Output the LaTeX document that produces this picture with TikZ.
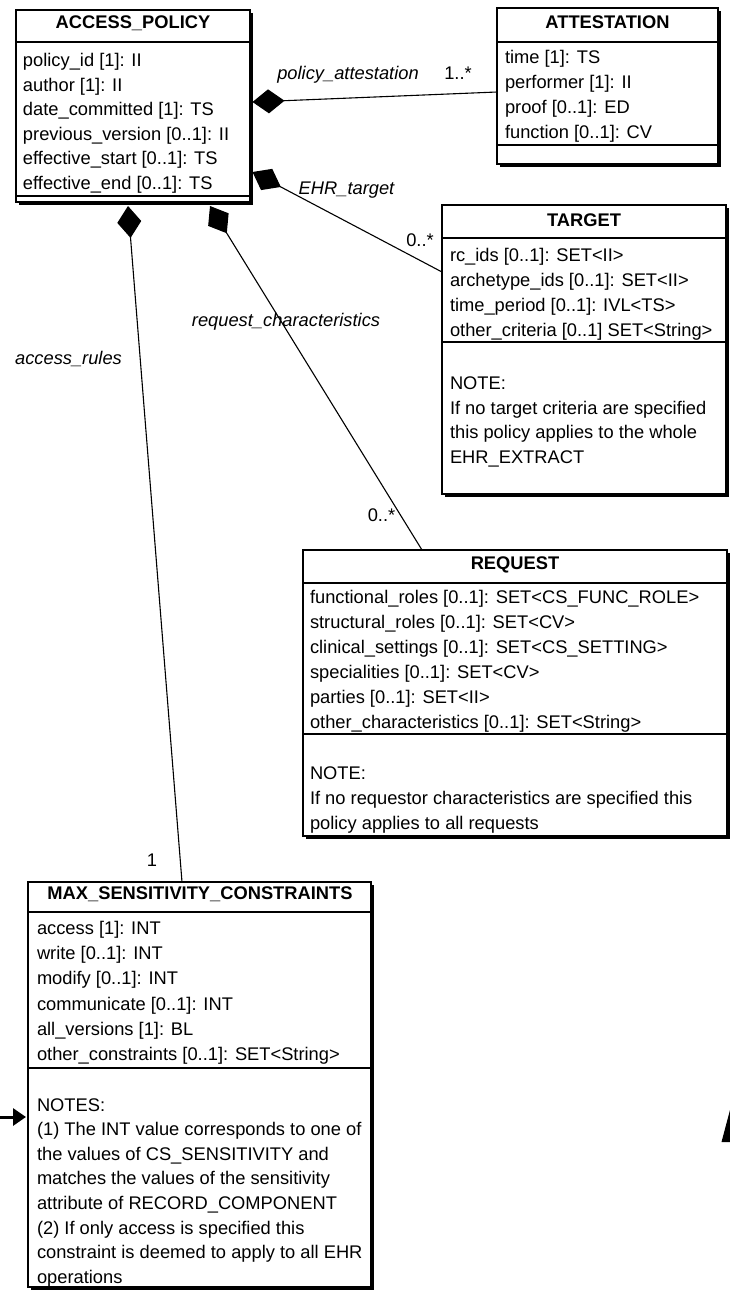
\documentclass[tikz,border=0pt]{standalone}
\usepackage{fontspec}
\setmainfont{Liberation Sans}
\usetikzlibrary{arrows.meta,shadows}
\newcommand\umlfont{\fontsize{18.3}{25}\selectfont}
\newcommand\umllines[5]{%
  \foreach \txt [count=\i from 0] in {#5} {
    \node[attr] (#1\i) at (#2,{#3+\i*#4}) {\txt};
  }%
}
\begin{document}
\begin{tikzpicture}[x=1pt,y=-1pt,
  every node/.style={inner sep=0pt,outer sep=0pt},
  classbox/.style={draw=black,line width=1.4pt,fill=white,anchor=north west,
    drop shadow={shadow xshift=2.5pt,shadow yshift=-2.5pt,opacity=1,fill=black}},
  ttl/.style={font=\umlfont\bfseries,anchor=base},
  attr/.style={font=\umlfont,anchor=base west},
  lbl/.style={font=\umlfont\itshape,anchor=base},
  mult/.style={font=\umlfont,anchor=base},
  sepline/.style={line width=1.3pt},
  comp/.style={line width=1.1pt,{Diamond[length=32pt,width=24pt]}-}]
\useasboundingbox (0,0) rectangle (730,1304);
\fill[white] (0,0) rectangle (730,1304);

% ---------- boxes ----------
\node[classbox,minimum width=234pt,minimum height=192pt] (ap) at (16,10) {};
\node[classbox,minimum width=221pt,minimum height=156pt] (att) at (497,8) {};
\node[classbox,minimum width=284pt,minimum height=289pt] (tg) at (442,205) {};
\node[classbox,minimum width=424pt,minimum height=286pt] (rq) at (303,550) {};
\node[classbox,minimum width=343pt,minimum height=405pt] (mx) at (28,882) {};

% separators
\draw[sepline] (ap.west |- 0,42) -- (ap.east |- 0,42);
\draw[sepline] (ap.west |- 0,196) -- (ap.east |- 0,196);
\draw[sepline] (att.west |- 0,42) -- (att.east |- 0,42);
\draw[sepline] (att.west |- 0,145) -- (att.east |- 0,145);
\draw[sepline] (tg.west |- 0,238) -- (tg.east |- 0,238);
\draw[sepline] (tg.west |- 0,342) -- (tg.east |- 0,342);
\draw[sepline] (rq.west |- 0,583) -- (rq.east |- 0,583);
\draw[sepline] (rq.west |- 0,734) -- (rq.east |- 0,734);
\draw[sepline] (mx.west |- 0,912) -- (mx.east |- 0,912);
\draw[sepline] (mx.west |- 0,1068) -- (mx.east |- 0,1068);

% titles
\node[ttl] (apt) at (133,28.5) {ACCESS\_POLICY};
\node[ttl] (attt) at (607.5,28.5) {ATTESTATION};
\node[ttl] (tgt) at (584,226.5) {TARGET};
\node[ttl] (rqt) at (515,569.5) {REQUEST};
\node[ttl] (mxt) at (200,899.5) {MAX\_SENSITIVITY\_CONSTRAINTS};

% attributes
\umllines{apa}{23}{66.5}{24.6}{{policy\_id [1]: II},{author [1]: II},{date\_committed [1]: TS},{previous\_version [0..1]: II},{effective\_start [0..1]: TS},{effective\_end [0..1]: TS}}
\umllines{atta}{505}{63.5}{25}{{time [1]: TS},{performer [1]: II},{proof [0..1]: ED},{function [0..1]: CV}}
\umllines{tga}{450}{261.5}{25}{{rc\_ids [0..1]: SET<II>},{archetype\_ids [0..1]: SET<II>},{time\_period [0..1]: IVL<TS>},{other\_criteria [0..1] SET<String>}}
\umllines{tgn}{450}{389.5}{24.7}{{NOTE:},{If no target criteria are specified},{this policy applies to the whole},{EHR\_EXTRACT}}
\umllines{rqa}{310}{603.5}{25}{{functional\_roles [0..1]: SET<CS\_FUNC\_ROLE>},{structural\_roles [0..1]: SET<CV>},{clinical\_settings [0..1]: SET<CS\_SETTING>},{specialities [0..1]: SET<CV>},{parties [0..1]: SET<II>},{other\_characteristics [0..1]: SET<String>}}
\umllines{rqn}{310}{779.5}{25}{{NOTE:},{If no requestor characteristics are specified this},{policy applies to all requests}}
\umllines{mxa}{37}{934.5}{25.2}{{access [1]: INT},{write [0..1]: INT},{modify [0..1]: INT},{communicate [0..1]: INT},{all\_versions [1]: BL},{other\_constraints [0..1]: SET<String>}}
\umllines{mxn}{37}{1111}{24.6}{{NOTES:},{(1) The INT value corresponds to one of},{the values of CS\_SENSITIVITY and},{matches the values of the sensitivity},{attribute of RECORD\_COMPONENT},{(2) If only access is specified this},{constraint is deemed to apply to all EHR},{operations}}

% ---------- connectors ----------
\draw[comp] ([shift={(2.5,92)}]ap.north east) -- ([shift={(0,84)}]att.north west);
\draw[comp] ([shift={(2.5,162)}]ap.north east) -- ([shift={(0,67)}]tg.north west);
\draw[comp] ([shift={(194,4)}]ap.south west) -- ([shift={(119,0)}]rq.north west);
\draw[comp] ([shift={(112,4)}]ap.south west) -- ([shift={(154,0)}]mx.north west);

% labels
\node[lbl] (l1) at (348,79) {policy\_attestation};
\node[mult] (m1) at (458,79) {1..*};
\node[lbl] (l2) at (346.5,194) {EHR\_target};
\node[mult] (m2) at (420,246) {0..*};
\node[lbl] (l3) at (286,326) {request\_characteristics};
\node[mult] (m3) at (381.5,521) {0..*};
\node[lbl] (l4) at (68.5,364) {access\_rules};
\node[mult] (m4) at (152,866) {1};

% ---------- fragments at the edges ----------
\coordinate (tail) at (0,1117);
\draw[line width=3pt,-{Triangle[length=13pt,width=17pt]}] (tail) -- ([shift={(-2,235)}]mx.north west);
\fill[black] (721.5,1142) -- (731,1142) -- (731,1110) -- (730,1110) -- cycle;
\end{tikzpicture}
\end{document}
